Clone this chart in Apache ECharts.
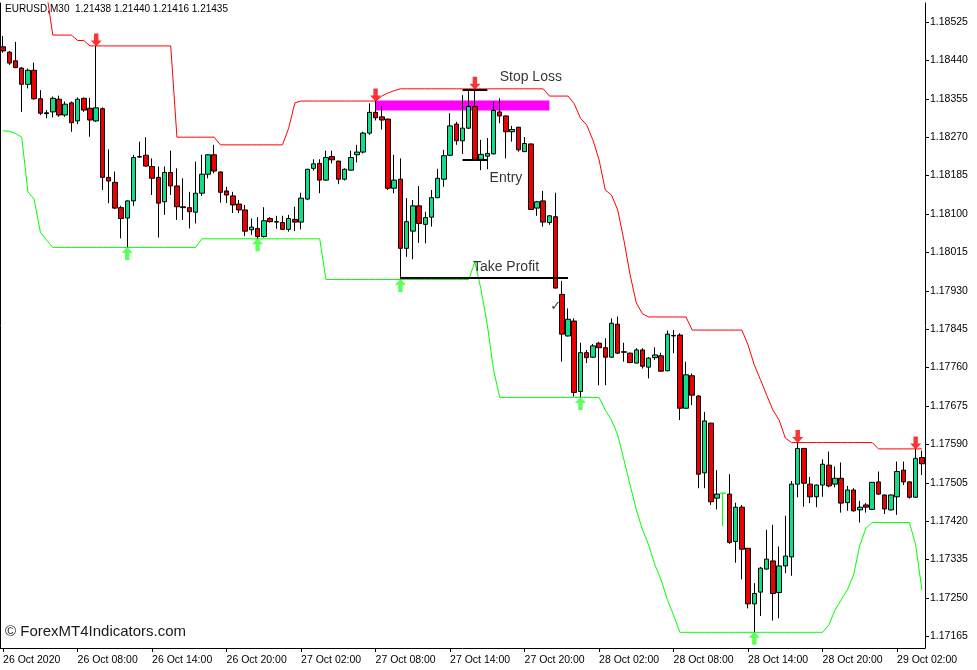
<!DOCTYPE html>
<html><head><meta charset="utf-8">
<script src="https://cdn.jsdelivr.net/npm/echarts@6/dist/echarts.min.js"></script>
<style>html,body{margin:0;padding:0;background:#fff}#c{width:977px;height:670px}</style>
</head><body><div id="c"></div>
<script>
const tickLabels = ['26 Oct 2020','26 Oct 08:00','26 Oct 14:00','26 Oct 20:00','27 Oct 02:00','27 Oct 08:00','27 Oct 14:00','27 Oct 20:00','28 Oct 02:00','28 Oct 08:00','28 Oct 14:00','28 Oct 20:00','29 Oct 02:00'];
const priceTicks = [1.17165,1.17250,1.17335,1.17420,1.17505,1.17590,1.17675,1.17760,1.17845,1.17930,1.18015,1.18100,1.18185,1.18270,1.18355,1.18440,1.18525];
// [open, close, low, high]
const candles = [
[1.18470,1.18461,1.18457,1.18494],[1.18458,1.18434,1.18430,1.18461],[1.18439,1.18424,1.18423,1.18481],[1.18423,1.18387,1.18326,1.18425],
[1.18387,1.18418,1.18378,1.18422],[1.18418,1.18355,1.18353,1.18435],[1.18355,1.18323,1.18319,1.18374],[1.18324,1.18322,1.18312,1.18330],
[1.18326,1.18356,1.18314,1.18360],[1.18354,1.18319,1.18315,1.18362],[1.18319,1.18343,1.18315,1.18349],[1.18346,1.18302,1.18282,1.18349],
[1.18306,1.18354,1.18299,1.18358],[1.18356,1.18330,1.18326,1.18358],[1.18334,1.18308,1.18271,1.18357],[1.18306,1.18335,1.18304,1.18472],
[1.18333,1.18181,1.18153,1.18336],[1.18181,1.18173,1.18124,1.18243],[1.18170,1.18113,1.18111,1.18194],[1.18114,1.18090,1.18046,1.18118],
[1.18091,1.18129,1.18026,1.18130],[1.18129,1.18225,1.18118,1.18231],[1.18226,1.18227,1.18224,1.18260],[1.18230,1.18206,1.18205,1.18270],
[1.18205,1.18179,1.18142,1.18223],[1.18181,1.18124,1.18048,1.18205],[1.18127,1.18192,1.18098,1.18205],[1.18192,1.18162,1.18142,1.18240],
[1.18162,1.18116,1.18087,1.18201],[1.18116,1.18114,1.18087,1.18179],[1.18114,1.18105,1.18068,1.18149],[1.18104,1.18146,1.18079,1.18216],
[1.18146,1.18188,1.18140,1.18231],[1.18188,1.18231,1.18179,1.18232],[1.18231,1.18195,1.18190,1.18253],[1.18193,1.18148,1.18125,1.18194],
[1.18151,1.18142,1.18124,1.18160],[1.18140,1.18120,1.18102,1.18149],[1.18122,1.18109,1.18102,1.18131],[1.18109,1.18062,1.18051,1.18120],
[1.18065,1.18071,1.18054,1.18090],[1.18068,1.18050,1.18045,1.18093],[1.18050,1.18085,1.18048,1.18115],[1.18090,1.18083,1.18081,1.18093],
[1.18083,1.18082,1.18067,1.18096],[1.18081,1.18066,1.18065,1.18096],[1.18066,1.18090,1.18061,1.18098],[1.18088,1.18082,1.18062,1.18116],
[1.18082,1.18135,1.18066,1.18147],[1.18133,1.18199,1.18131,1.18200],[1.18201,1.18211,1.18196,1.18221],[1.18212,1.18175,1.18146,1.18221],
[1.18175,1.18225,1.18174,1.18240],[1.18227,1.18220,1.18212,1.18240],[1.18217,1.18177,1.18166,1.18218],[1.18177,1.18199,1.18174,1.18201],
[1.18197,1.18225,1.18196,1.18240],[1.18231,1.18237,1.18214,1.18253],[1.18237,1.18279,1.18234,1.18282],[1.18279,1.18325,1.18275,1.18345],
[1.18325,1.18313,1.18307,1.18350],[1.18315,1.18308,1.18287,1.18339],[1.18310,1.18157,1.18153,1.18311],[1.18157,1.18175,1.18146,1.18231],
[1.18177,1.18024,1.17955,1.18223],[1.18024,1.18083,1.18005,1.18135],[1.18062,1.18118,1.18000,1.18131],[1.18118,1.18079,1.18036,1.18162],
[1.18077,1.18092,1.18035,1.18105],[1.18093,1.18136,1.18072,1.18153],[1.18136,1.18179,1.18135,1.18200],[1.18177,1.18229,1.18160,1.18242],
[1.18230,1.18295,1.18228,1.18323],[1.18299,1.18262,1.18253,1.18304],[1.18262,1.18290,1.18233,1.18363],[1.18290,1.18338,1.18288,1.18373],
[1.18338,1.18221,1.18219,1.18376],[1.18221,1.18232,1.18197,1.18264],[1.18228,1.18234,1.18199,1.18268],[1.18233,1.18329,1.18232,1.18349],
[1.18326,1.18317,1.18301,1.18356],[1.18317,1.18282,1.18223,1.18318],[1.18282,1.18287,1.18260,1.18295],[1.18292,1.18242,1.18238,1.18293],
[1.18238,1.18256,1.18237,1.18270],[1.18255,1.18110,1.18109,1.18256],[1.18113,1.18127,1.18096,1.18129],[1.18129,1.18082,1.18072,1.18151],
[1.18081,1.18096,1.18076,1.18097],[1.18094,1.17936,1.17935,1.18147],[1.17922,1.17834,1.17773,1.17952],[1.17830,1.17867,1.17829,1.17891],
[1.17863,1.17705,1.17696,1.17869],[1.17707,1.17793,1.17694,1.17815],[1.17793,1.17782,1.17770,1.17799],[1.17783,1.17808,1.17782,1.17812],
[1.17814,1.17804,1.17721,1.17817],[1.17804,1.17783,1.17721,1.17825],[1.17783,1.17858,1.17782,1.17869],[1.17856,1.17792,1.17790,1.17873],
[1.17795,1.17794,1.17773,1.17815],[1.17792,1.17771,1.17770,1.17793],[1.17770,1.17799,1.17769,1.17803],[1.17799,1.17763,1.17758,1.17803],
[1.17761,1.17781,1.17736,1.17783],[1.17782,1.17788,1.17777,1.17805],[1.17786,1.17752,1.17751,1.17793],[1.17753,1.17834,1.17752,1.17842],
[1.17831,1.17830,1.17792,1.17843],[1.17832,1.17670,1.17644,1.17836],[1.17670,1.17744,1.17669,1.17773],[1.17742,1.17699,1.17677,1.17747],
[1.17697,1.17524,1.17493,1.17699],[1.17527,1.17642,1.17493,1.17662],[1.17637,1.17463,1.17456,1.17638],[1.17471,1.17480,1.17446,1.17533],
[1.17482,1.17482,1.17409,1.17482],[1.17480,1.17373,1.17370,1.17524],[1.17375,1.17451,1.17328,1.17461],[1.17451,1.17358,1.17291,1.17456],
[1.17360,1.17237,1.17227,1.17361],[1.17237,1.17260,1.17174,1.17283],[1.17263,1.17316,1.17210,1.17319],[1.17314,1.17336,1.17313,1.17401],
[1.17332,1.17260,1.17200,1.17412],[1.17262,1.17321,1.17205,1.17364],[1.17321,1.17343,1.17305,1.17432],[1.17341,1.17502,1.17299,1.17509],
[1.17502,1.17581,1.17473,1.17594],[1.17581,1.17504,1.17452,1.17582],[1.17502,1.17474,1.17460,1.17518],[1.17474,1.17500,1.17451,1.17501],
[1.17500,1.17546,1.17474,1.17557],[1.17544,1.17498,1.17495,1.17574],[1.17502,1.17515,1.17495,1.17541],[1.17515,1.17460,1.17439,1.17550],
[1.17461,1.17489,1.17443,1.17498],[1.17489,1.17443,1.17441,1.17493],[1.17445,1.17451,1.17417,1.17465],[1.17456,1.17451,1.17439,1.17460],
[1.17446,1.17506,1.17445,1.17507],[1.17507,1.17480,1.17478,1.17530],[1.17478,1.17447,1.17436,1.17479],[1.17445,1.17478,1.17444,1.17479],
[1.17474,1.17530,1.17434,1.17552],[1.17533,1.17507,1.17500,1.17552],[1.17507,1.17473,1.17470,1.17508],[1.17473,1.17559,1.17472,1.17580],
[1.17561,1.17547,1.17522,1.17576]
];
const oddBar = 116; // thin lime bar
const resistance = [
null,null,null,null,null,null,null,1.18591,
1.18496,1.18496,1.18496,1.18496,1.18484,1.18484,
1.18472,1.18472,1.18472,1.18472,1.18472,1.18472,1.18472,1.18472,1.18472,1.18472,1.18472,1.18472,1.18472,1.18472,
1.18270,1.18270,1.18270,1.18270,1.18270,1.18270,1.18270,
1.18253,1.18253,1.18253,1.18253,1.18253,1.18253,1.18253,1.18253,1.18253,1.18253,1.18253,
1.18290,1.18346,
1.18350,1.18350,1.18350,1.18350,1.18350,1.18350,1.18350,1.18350,1.18350,1.18350,1.18350,1.18350,1.18350,
1.18361,1.18368,1.18373,
1.18377,1.18377,1.18377,1.18377,1.18377,1.18377,1.18377,1.18377,1.18377,1.18377,1.18377,1.18377,
1.18377,1.18377,1.18377,1.18377,1.18377,1.18377,1.18377,1.18377,1.18377,1.18377,1.18377,1.18377,
1.18361,1.18361,1.18361,1.18361,
1.18344,1.18312,1.18297,1.18264,1.18220,1.18153,1.18142,1.18109,1.18042,1.17965,1.17903,1.17879,
1.17872,1.17872,1.17872,1.17872,1.17872,1.17872,1.17872,
1.17843,1.17843,1.17843,1.17843,1.17843,1.17843,1.17843,1.17843,1.17843,
1.17810,1.17766,1.17733,1.17699,1.17666,1.17644,1.17604,
1.17594,1.17594,1.17594,1.17594,1.17594,1.17594,1.17594,1.17594,1.17594,1.17594,1.17594,1.17594,1.17594,1.17594,
1.17580,1.17580,1.17580,1.17580,1.17580,1.17580,1.17580,1.17580
];
const support = [
1.18284,1.18283,1.18278,1.18270,1.18149,1.18133,1.18060,1.18042,
1.18026,1.18026,1.18026,1.18026,1.18026,1.18026,1.18026,1.18026,1.18026,1.18026,1.18026,1.18026,
1.18026,1.18026,1.18026,1.18026,1.18026,1.18026,1.18026,1.18026,1.18026,1.18026,1.18026,1.18026,
1.18045,1.18045,1.18045,1.18045,1.18045,1.18045,1.18045,1.18045,1.18045,1.18045,
1.18045,1.18045,1.18045,1.18045,1.18045,1.18045,1.18045,1.18045,1.18045,1.18045,
1.17955,1.17955,1.17955,1.17955,1.17955,1.17955,1.17955,1.17955,1.17955,1.17955,1.17955,1.17955,
1.17955,1.17955,1.17955,1.17955,1.17955,1.17955,1.17955,1.17955,1.17955,1.17955,1.17955,1.17955,
1.17994,1.17932,1.17854,1.17755,
1.17694,1.17694,1.17694,1.17694,1.17694,1.17694,1.17694,1.17694,1.17694,1.17694,1.17694,1.17694,1.17694,1.17694,1.17694,1.17694,1.17694,
1.17666,1.17644,1.17611,1.17556,1.17500,1.17445,1.17401,1.17367,1.17323,1.17290,1.17246,1.17212,
1.17174,1.17174,1.17174,1.17174,1.17174,1.17174,1.17174,1.17174,1.17174,1.17174,1.17174,1.17174,
1.17174,1.17174,1.17174,1.17174,1.17174,1.17174,1.17174,1.17174,1.17174,1.17174,1.17174,1.17174,
1.17190,1.17223,1.17246,1.17268,1.17301,1.17367,1.17405,
1.17417,1.17417,1.17417,1.17417,1.17417,1.17417,1.17417,
1.17367,1.17268
];
const highArrowBars = [15,60,76,128,147];
const lowArrowBars = [20,41,64,93,121];
const levelNames = ['Stop Loss','Entry','Take Profit'];
const levelPrices = [1.18374,1.18221,1.17959];
const levelFrom = [74,74,64];
const levelTo = [78,78,91];
const labelBars = [85,81,81];
const labelPrices = [1.18403,1.18180,1.17983];
const zoneBars = [60,88];
const zonePrices = [1.18351,1.18329];
const checkBar = 89, checkPrice = 1.17894;

const FONT = '"Liberation Sans", Arial, sans-serif';
const chart = echarts.init(document.getElementById('c'), null, {renderer:'canvas'});
const cats = candles.map((_, i) => i);
const candleData = candles.map((c, i) => i === oddBar
  ? {value: c, itemStyle: {color:'#00ff00', color0:'#00ff00', borderColor:'#00ff00', borderColor0:'#00ff00', borderColorDoji:'#00ff00'}}
  : c);
const yMin = 1.171393, yMax = 1.18567;
const downArrow = 'path://M3,0 L7,0 L7,7 L10,7 L5,13 L0,7 L3,7 Z';
const upArrow = 'path://M5,0 L10,6 L7,6 L7,13 L3,13 L3,6 L0,6 Z';

chart.setOption({
  animation: false,
  backgroundColor: '#ffffff',
  grid: {left: 0, right: 52, top: 3, bottom: 22},
  xAxis: {
    type: 'category', data: cats, boundaryGap: true,
    axisLine: {lineStyle: {color: '#000', width: 1}},
    axisTick: {show: true, interval: 11, alignWithLabel: true, length: 4, lineStyle: {color: '#000'}},
    axisLabel: {interval: 11, align: 'left', margin: 7, color: '#000', fontSize: 10.5, fontFamily: FONT,
      formatter: (v, idx) => tickLabels[idx / 12] || ''},
    splitLine: {show: false}
  },
  yAxis: [{
    type: 'value', position: 'right', min: yMin, max: yMax, scale: true,
    axisLine: {show: true, lineStyle: {color: '#000'}},
    axisTick: {show: true, length: 4, customValues: priceTicks, lineStyle: {color: '#000'}},
    axisLabel: {customValues: priceTicks, margin: 5, color: '#000', fontSize: 10.5, fontFamily: FONT,
      formatter: v => v.toFixed(5)},
    splitLine: {show: false}
  }, {
    type: 'value', position: 'left', min: yMin, max: yMax,
    axisLine: {show: true, lineStyle: {color: '#000'}},
    axisTick: {show: false}, axisLabel: {show: false}, splitLine: {show: false}
  }],
  series: [
    {
      type: 'line', name: 'res', data: resistance, showSymbol: false, symbol: 'none', z: 2,
      lineStyle: {color: '#ff0000', width: 1}, silent: true,
      markArea: {silent: true, z: 1, itemStyle: {color: '#ff00ff', opacity: 1},
        data: [[{coord: [zoneBars[0], zonePrices[0]]}, {coord: [zoneBars[1], zonePrices[1]]}]]}
    },
    {
      type: 'line', name: 'sup', data: support, showSymbol: false, symbol: 'none', z: 2,
      lineStyle: {color: '#00ff00', width: 1}, silent: true
    },
    {
      type: 'candlestick', name: 'EURUSD', data: candleData, barWidth: 5, z: 3,
      itemStyle: {color: '#12dd88', color0: '#ee0000', borderColor: '#000', borderColor0: '#000', borderColorDoji: '#000', borderWidth: 1},
      markLine: {silent: true, symbol: 'none', z: 5, label: {show: false},
        lineStyle: {color: '#000', width: 2, type: 'solid'},
        data: levelPrices.map((p, k) => [{coord: [levelFrom[k], p]}, {coord: [levelTo[k], p]}])}
    },
    {
      type: 'scatter', name: 'hiArrows', z: 6, symbol: downArrow, symbolSize: [11, 13], symbolOffset: [0, -6],
      itemStyle: {color: '#ff0000'}, silent: true,
      data: highArrowBars.map(i => [i, candles[i][3]])
    },
    {
      type: 'scatter', name: 'loArrows', z: 6, symbol: upArrow, symbolSize: [11, 13], symbolOffset: [0, 6],
      itemStyle: {color: '#33ff33'}, silent: true,
      data: lowArrowBars.map(i => [i, candles[i][2]])
    },
    {
      type: 'scatter', name: 'labels', z: 7, symbolSize: 0, silent: true,
      label: {show: true, position: 'inside', color: '#000', fontSize: 14, fontFamily: FONT,
        formatter: p => p.name},
      data: levelNames.map((n, k) => ({name: n, value: [labelBars[k], labelPrices[k]]}))
        .concat([{name: '\u2713', value: [checkBar, checkPrice], label: {fontSize: 13, fontFamily: '"DejaVu Sans", sans-serif'}}])
    }
  ],
  graphic: [
    {type: 'text', left: 5, top: 4, z: 100, style: {text: 'EURUSD,M30  1.21438 1.21440 1.21416 1.21435', fontSize: 10, fontFamily: FONT, fill: '#000'}},
    {type: 'text', left: 5, top: 624, z: 100, style: {text: '\u00A9 ForexMT4Indicators.com', fontSize: 15, fontFamily: FONT, fill: '#1a1a1a'}}
  ]
});
</script></body></html>
